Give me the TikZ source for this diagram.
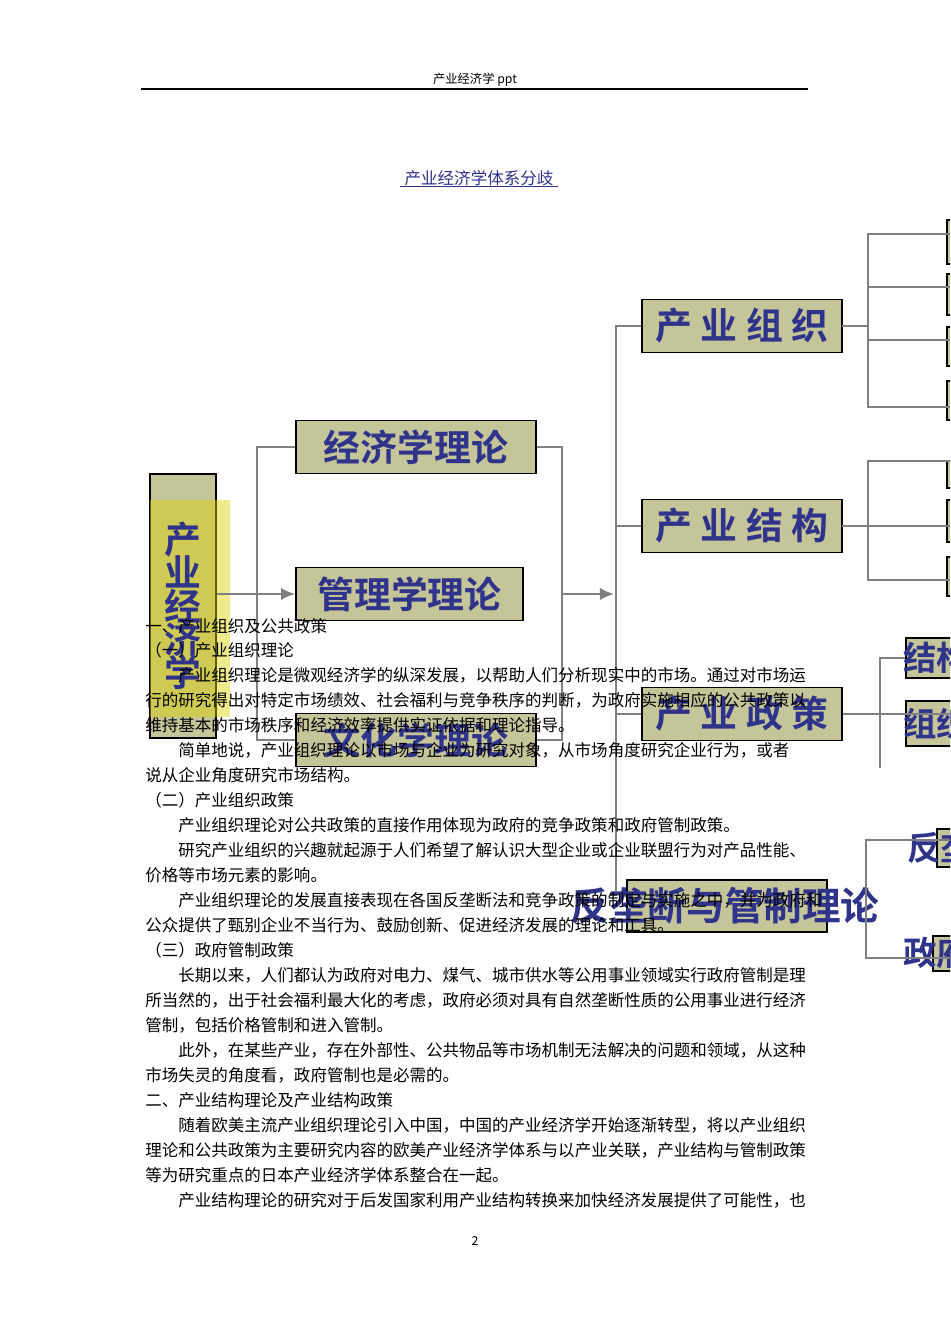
\documentclass[tikz,border=0pt]{standalone}
\usepackage{fontspec}
\newfontfamily\cjk{Noto Sans CJK SC}
\newfontfamily\cjkbf{Noto Sans CJK SC Bold}
\usetikzlibrary{positioning, arrows.meta}
\definecolor{boxfill}{HTML}{C5C59A}
\definecolor{inkblue}{HTML}{30338A}
\definecolor{wire}{HTML}{808080}
\tikzset{
  topic/.style = {draw = black, line width = 1.1pt, fill = boxfill, inner sep = 0pt,
    text = inkblue, font = \cjkbf\fontsize{21}{21}\selectfont},
  stub/.style = {draw = black, line width = 1.1pt, fill = boxfill, inner sep = 0pt, anchor = north west,
    text = inkblue, font = \cjkbf\fontsize{19}{19}\selectfont},
  link/.style = {draw = wire, line width = 1.1pt},
  body/.style = {anchor = west, inner sep = 0pt, font = \cjk\fontsize{9.4}{10}\selectfont}
}
\begin{document}
\begin{tikzpicture}[x = 0.02cm, y = -0.02cm]
\clip (0, 0) rectangle (950, 1344);
\fill[white] (0, 0) rectangle (950, 1344);

% header
\node (head) at (475, 80) {\cjk\fontsize{7}{8}\selectfont 产业经济学 ppt};
\draw[line width = 0.6pt] (141, 89) -- (808, 89);
\node (title) at (479, 178) {\cjk\fontsize{9.4}{10}\selectfont\color{inkblue}产业经济学体系分歧};
\draw[inkblue, line width = 0.5pt] (400, 186) -- (558, 186);

% left part
\node[topic, minimum width = 1.32cm, minimum height = 5.28cm] (root) at (183, 606) {};
\fill[yellow!70!olive, opacity = 0.45] (150, 500) rectangle (230, 717);
\node[text = inkblue, font = \cjkbf\fontsize{21}{21}\selectfont, text width = 0.9cm, align = center]
  (roottxt) at (183, 606) {产\\[-2pt]业\\[-2pt]经\\[-2pt]济\\[-2pt]学};
\node[topic, minimum width = 4.8cm, minimum height = 1.06cm] (econ) at (416, 447) {经济学理论};
\node[topic, minimum width = 4.54cm, minimum height = 1.06cm] (mgmt) at (409.5, 594) {管理学理论};
\node[topic, minimum width = 4.8cm, minimum height = 1.06cm] (cult) at (416, 740) {文化学理论};
\coordinate (lbar) at (257, 594);
\coordinate (rbar) at (562, 594);
\coordinate (hub) at (614, 594);
\draw[link] (econ.west) -| (lbar) |- (cult.west);
\draw[link, -{Latex[length = 8pt, width = 7pt]}] (root.east |- lbar) -- (mgmt.west);
\draw[link] (econ.east) -| (rbar) |- (cult.east);
\draw[link, -{Latex[length = 8pt, width = 7pt]}] (rbar) -- (hub);

% right part
\node[topic, minimum width = 4cm, minimum height = 1.06cm] (org) at (742, 326) {产 业 组 织};
\node[topic, minimum width = 4cm, minimum height = 1.06cm] (str) at (742, 526) {产 业 结 构};
\node[topic, minimum width = 4cm, minimum height = 1.06cm] (pol) at (742, 714) {产 业 政 策};
\node[topic, minimum width = 4cm, minimum height = 1.04cm] (anti) at (727, 906) {};
\node[text = inkblue, font = \cjkbf\fontsize{22}{22}\selectfont] (antitxt) at (725, 906) {反垄断与管制理论};
\coordinate (spine) at (616, 892);
\draw[link] (org.west) -| (spine);
\draw[link] (str.west) -- (str.west -| spine);
\draw[link] (pol.west) -- (pol.west -| spine);

% branches of the right boxes
\foreach \t/\b in {220/264, 274/315, 327/366, 381/420}
  \draw[stub] (947, \t) rectangle (990, \b);
\draw[link] (842, 326) -- (868, 326);
\draw[link] (950, 234) -| (868, 407) -- (950, 407);
\foreach \y in {287, 340} \draw[link] (868, \y) -- (950, \y);
\foreach \t/\b in {461/488, 500/542, 557/596}
  \draw[stub] (947, \t) rectangle (990, \b);
\draw[link] (842, 526) -- (950, 526);
\draw[link] (950, 461) -| (868, 580) -- (950, 580);
\node[stub, minimum width = 1.2cm, minimum height = 0.8cm] (polA) at (905, 637) {};
\node[stub, minimum width = 1.2cm, minimum height = 0.9cm] (polB) at (905, 700) {};
\node[text = inkblue, font = \cjkbf\fontsize{19}{19}\selectfont, anchor = west, inner sep = 0pt] at (903, 658) {结构};
\node[text = inkblue, font = \cjkbf\fontsize{19}{19}\selectfont, anchor = west, inner sep = 0pt] at (903, 724) {组织};
\draw[link] (pol.east) -- (950, 714);
\draw[link] (polA.west) -| (880, 768);
\node[stub, minimum width = 1cm, minimum height = 0.76cm] (antA) at (936, 828) {};
\node[stub, minimum width = 1cm, minimum height = 0.7cm] (antB) at (932, 935) {};
\node[text = inkblue, font = \cjkbf\fontsize{19}{19}\selectfont, anchor = west, inner sep = 0pt] at (907, 848) {反垄断};
\node[text = inkblue, font = \cjkbf\fontsize{19}{19}\selectfont, anchor = west, inner sep = 0pt] at (903, 953) {政府};
\draw[link] (950, 840) -| (866, 958) -- (950, 958);

% body text
\foreach \y/\x/\line in {
  626/145/{一、产业组织及公共政策},
  650/145/{（一）产业组织理论},
  675/178/{产业组织理论是微观经济学的纵深发展，以帮助人们分析现实中的市场。通过对市场运},
  700/145/{行的研究得出对特定市场绩效、社会福利与竞争秩序的判断，为政府实施相应的公共政策以},
  725/145/{维持基本的市场秩序和经济效率提供实证依据和理论指导。},
  750/178/{简单地说，产业组织理论以市场与企业为研究对象，从市场角度研究企业行为，或者},
  775/145/{说从企业角度研究市场结构。},
  800/145/{（二）产业组织政策},
  825/178/{产业组织理论对公共政策的直接作用体现为政府的竞争政策和政府管制政策。},
  850/178/{研究产业组织的兴趣就起源于人们希望了解认识大型企业或企业联盟行为对产品性能、},
  875/145/{价格等市场元素的影响。},
  900/178/{产业组织理论的发展直接表现在各国反垄断法和竞争政策的制定与实施之中，并为政府和},
  925/145/{公众提供了甄别企业不当行为、鼓励创新、促进经济发展的理论和工具。},
  950/145/{（三）政府管制政策},
  975/178/{长期以来，人们都认为政府对电力、煤气、城市供水等公用事业领域实行政府管制是理},
  1000/145/{所当然的，出于社会福利最大化的考虑，政府必须对具有自然垄断性质的公用事业进行经济},
  1025/145/{管制，包括价格管制和进入管制。},
  1050/178/{此外，在某些产业，存在外部性、公共物品等市场机制无法解决的问题和领域，从这种},
  1075/145/{市场失灵的角度看，政府管制也是必需的。},
  1100/145/{二、产业结构理论及产业结构政策},
  1125/178/{随着欧美主流产业组织理论引入中国，中国的产业经济学开始逐渐转型，将以产业组织},
  1150/145/{理论和公共政策为主要研究内容的欧美产业经济学体系与以产业关联，产业结构与管制政策},
  1175/145/{等为研究重点的日本产业经济学体系整合在一起。},
  1200/178/{产业结构理论的研究对于后发国家利用产业结构转换来加快经济发展提供了可能性，也}}
  \node[body] at (\x, \y) {\line};
\node (page) at (475, 1241) {\cjk\fontsize{7}{8}\selectfont 2};
\end{tikzpicture}
\end{document}
